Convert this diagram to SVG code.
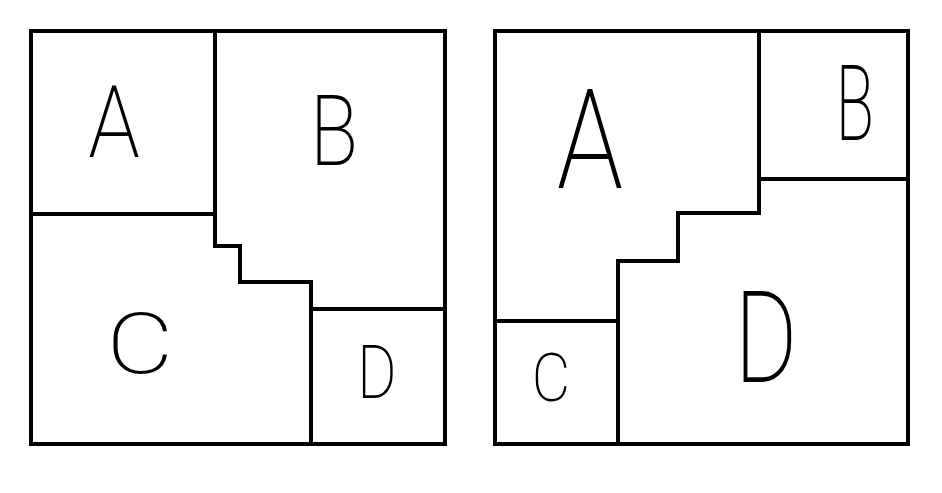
<svg xmlns="http://www.w3.org/2000/svg" width="942" height="493" viewBox="0 0 942 493">
<style>
.ln{fill:none;stroke:#000;stroke-width:4;stroke-linecap:square;stroke-linejoin:miter}
.lb{font-family:Roboto,"Liberation Sans",sans-serif;font-weight:200;fill:#000;text-anchor:middle}
</style>
<rect width="942" height="493" fill="#fff"/>
<g id="left-diagram">
  <g id="left-frame"><rect class="ln" x="31" y="31" width="414" height="413"/></g>
  <g id="left-partitions">
    <path class="ln" d="M215 31 V246 H240 V282 H311 V444"/>
    <path class="ln" d="M31 214 H215"/>
    <path class="ln" d="M311 309 H445"/>
  </g>
  <g id="left-A"><text class="lb" x="114" y="157" font-size="100" transform="translate(114 0) scale(0.85 1) translate(-114 0)">A</text></g>
  <g id="left-B"><text class="lb" x="334" y="165" font-size="99" transform="translate(334 0) scale(0.8 1) translate(-334 0)">B</text></g>
  <g id="left-C"><text class="lb" x="140" y="373" font-size="86" transform="translate(140 0) scale(1.2 1) translate(-140 0)">C</text></g>
  <g id="left-D"><text class="lb" x="377" y="398" font-size="75" transform="translate(377 0) scale(0.8 1) translate(-377 0)">D</text></g>
</g>
<g id="right-diagram">
  <g id="right-frame"><rect class="ln" x="495" y="31" width="413" height="413"/></g>
  <g id="right-partitions">
    <path class="ln" d="M759 31 V213 H678 V261 H618 V444"/>
    <path class="ln" d="M759 179 H908"/>
    <path class="ln" d="M495 321 H618"/>
  </g>
  <g id="right-A"><text class="lb" x="590" y="188" font-size="140" transform="translate(590 0) scale(0.78 1) translate(-590 0)">A</text></g>
  <g id="right-B"><text class="lb" x="855" y="140" font-size="105" transform="translate(855 0) scale(0.6 1) translate(-855 0)">B</text></g>
  <g id="right-C"><text class="lb" x="551" y="401" font-size="66" transform="translate(551 0) scale(0.9 1) translate(-551 0)">C</text></g>
  <g id="right-D"><text class="lb" x="766" y="382" font-size="128" transform="translate(766 0) scale(0.75 1) translate(-766 0)">D</text></g>
</g>
</svg>
